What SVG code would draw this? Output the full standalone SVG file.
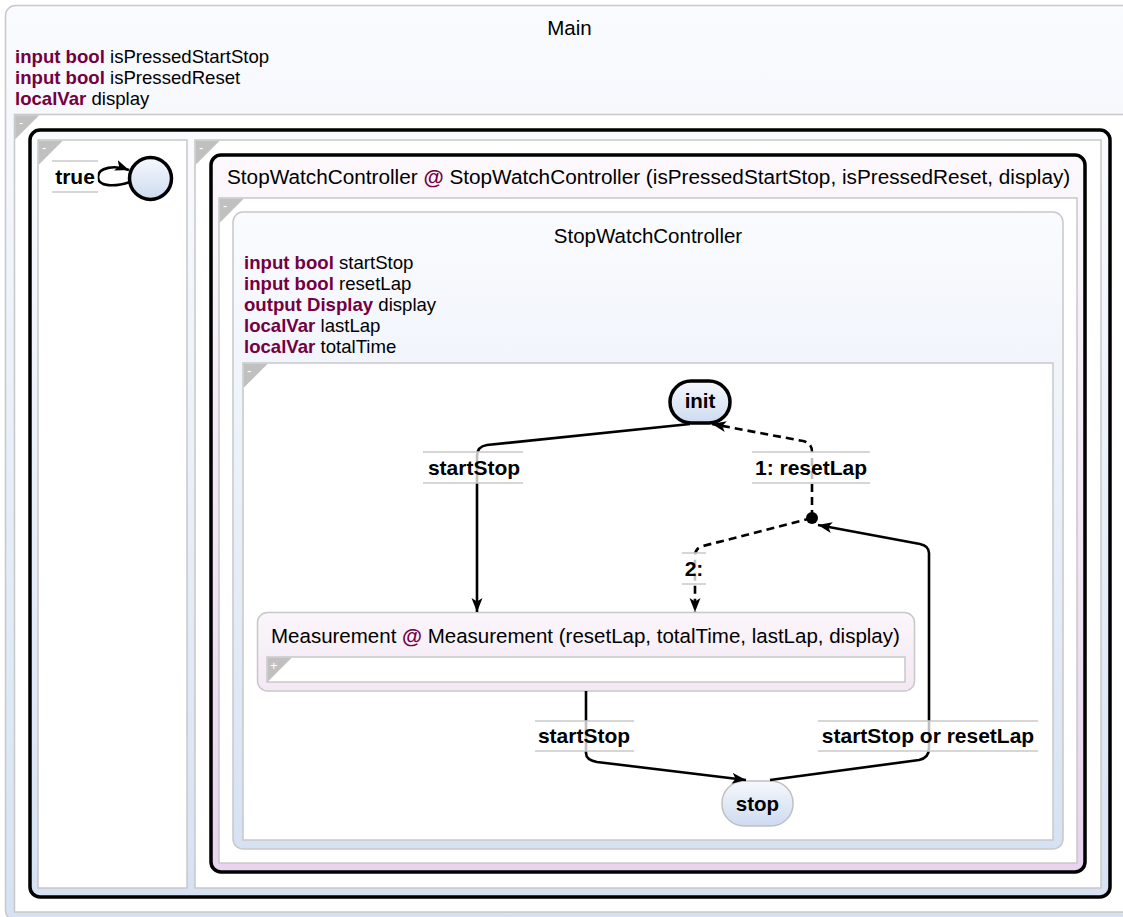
<svg xmlns="http://www.w3.org/2000/svg" width="1123" height="917" viewBox="0 0 1123 917">
<style>
.t{font-family:"Liberation Sans",Arial,sans-serif;fill:#000}
.kw{font-weight:bold;fill:#730041}
.decl{font-size:18.6px}
.title{font-size:20.5px}
.sname{font-size:20.5px;font-weight:bold}
.lbl{font-size:21px;font-weight:bold}
.region{fill:#fff;stroke:#c8c8c8;stroke-width:1.5}
.tri{fill:#c0c0c0}
.trit{font-family:"Liberation Sans",Arial,sans-serif;font-size:13px;fill:#fff}
.edge{fill:none;stroke:#000;stroke-width:2.6}
.dash{stroke-dasharray:8 5}
.lblbg{fill:#fff;fill-opacity:0.75}
.lblline{stroke:#c8c8c8;stroke-width:1.5}
</style>
<defs>
<linearGradient id="gBlue" x1="0" y1="0" x2="0" y2="1"><stop offset="0" stop-color="#fafbfe"/><stop offset="1" stop-color="#d6e2f3"/></linearGradient>
<linearGradient id="gNode" x1="0" y1="0" x2="0" y2="1"><stop offset="0" stop-color="#f6f8fd"/><stop offset="1" stop-color="#cddbf0"/></linearGradient>
<linearGradient id="gPink" x1="0" y1="0" x2="0" y2="1"><stop offset="0" stop-color="#fcf8fc"/><stop offset="1" stop-color="#e9d4ef"/></linearGradient>
<linearGradient id="gPinkL" x1="0" y1="0" x2="0" y2="1"><stop offset="0" stop-color="#fbf6fb"/><stop offset="1" stop-color="#f3e8f3"/></linearGradient>
<marker id="arr" markerUnits="userSpaceOnUse" markerWidth="16" markerHeight="13" refX="14" refY="5.5" orient="auto"><path d="M0,0 L14,5.5 L0,11 L3.5,5.5 z" fill="#000"/></marker>
</defs>

<g id="main">
<rect x="5.5" y="5.5" width="1135" height="915" rx="10" fill="url(#gBlue)" stroke="#c8c8c8" stroke-width="1.5"/>
<text class="t title" x="569.5" y="35" text-anchor="middle">Main</text>
<text class="t decl" x="15" y="63"><tspan class="kw">input bool</tspan> isPressedStartStop</text>
<text class="t decl" x="15" y="84"><tspan class="kw">input bool</tspan> isPressedReset</text>
<text class="t decl" x="15" y="105"><tspan class="kw">localVar</tspan> display</text>
<rect class="region" x="14.5" y="114.5" width="1125" height="797.5"/>
<path class="tri" d="M15.2,115.2 h24 l-24,24 z"/><text class="trit" x="19" y="127">-</text>
</g>

<g id="parallel">
<rect x="30" y="130" width="1080" height="767" rx="10" fill="url(#gBlue)" stroke="#000" stroke-width="3.5"/>
<rect class="region" x="38" y="140" width="149" height="748"/>
<path class="tri" d="M38.7,140.7 h24 l-24,24 z"/><text class="trit" x="42" y="152">-</text>
<rect class="region" x="195" y="140" width="906" height="748"/>
<path class="tri" d="M195.7,140.7 h24 l-24,24 z"/><text class="trit" x="199" y="152">-</text>
</g>

<g id="circle">
<circle cx="150.5" cy="178.5" r="21" fill="url(#gNode)" stroke="#000" stroke-width="3.5"/>
</g>

<g id="swc-ref">
<rect x="211" y="155" width="874" height="717" rx="10" fill="url(#gPink)" stroke="#000" stroke-width="3.5"/>
<text class="t" font-size="20.75" x="227" y="184">StopWatchController <tspan font-weight="bold" fill="#730041">@</tspan> StopWatchController (isPressedStartStop, isPressedReset, display)</text>
<rect class="region" x="219" y="198" width="858" height="665"/>
<path class="tri" d="M219.7,198.7 h24 l-24,24 z"/><text class="trit" x="223" y="210">-</text>
</g>

<g id="swc">
<rect x="233" y="212" width="830" height="637" rx="10" fill="url(#gBlue)" stroke="#c8c8c8" stroke-width="1.5"/>
<text class="t title" x="648" y="243" text-anchor="middle">StopWatchController</text>
<text class="t decl" x="244" y="269"><tspan class="kw">input bool</tspan> startStop</text>
<text class="t decl" x="244" y="290"><tspan class="kw">input bool</tspan> resetLap</text>
<text class="t decl" x="244" y="311"><tspan class="kw">output Display</tspan> display</text>
<text class="t decl" x="244" y="332"><tspan class="kw">localVar</tspan> lastLap</text>
<text class="t decl" x="244" y="353"><tspan class="kw">localVar</tspan> totalTime</text>
<rect class="region" x="243" y="363" width="810" height="477"/>
<path class="tri" d="M243.7,363.7 h24 l-24,24 z"/><text class="trit" x="247" y="375">-</text>
</g>

<g id="init">
<rect x="670" y="381" width="60" height="42" rx="21" fill="url(#gNode)" stroke="#000" stroke-width="3.5"/>
<text class="t sname" x="700" y="408" text-anchor="middle">init</text>
</g>

<g id="measurement">
<rect x="257.5" y="612.5" width="657" height="78.5" rx="10" fill="url(#gPinkL)" stroke="#c8c8c8" stroke-width="1.5"/>
<text class="t title" x="271" y="643">Measurement <tspan font-weight="bold" fill="#730041">@</tspan> Measurement (resetLap, totalTime, lastLap, display)</text>
<rect class="region" x="267" y="657" width="638" height="25"/>
<path class="tri" d="M267.7,657.7 h24 l-24,24 z"/><text class="trit" x="270" y="670">+</text>
</g>

<g id="stop">
<rect x="722" y="781" width="71" height="45" rx="22" fill="url(#gNode)" stroke="#c0c0c0" stroke-width="1.5"/>
<text class="t sname" x="757.5" y="811" text-anchor="middle">stop</text>
</g>

<g id="connectors">
<path class="edge" d="M130,182 C115,187 98,187 98,177 C98,167 115,165 129,170" marker-end="url(#arr)"/>
<path class="edge" d="M690,424 L487,445 Q477,446.5 477,456 L477,612" marker-end="url(#arr)"/>
<path class="edge dash" d="M812,518 L812,452 Q812,443 803,441 L712,424" marker-end="url(#arr)"/>
<path class="edge dash" d="M812,518 L703,546 Q695,548 695,556 L695,612" marker-end="url(#arr)"/>
<path class="edge" d="M586,691 L586,753 Q586,760 597,762 L746,780" marker-end="url(#arr)"/>
<path class="edge" d="M770,780 L919,760 Q929,758 929,748 L929,553 Q929,546 920,544 L818,525" marker-end="url(#arr)"/>
<circle cx="812" cy="518" r="6" fill="#000"/>

<rect class="lblbg" x="52" y="161" width="46" height="31"/>
<line class="lblline" x1="52" y1="161" x2="98" y2="161"/><line class="lblline" x1="52" y1="192" x2="98" y2="192"/>
<text class="t lbl" x="75" y="184" text-anchor="middle">true</text>

<rect class="lblbg" x="423" y="452" width="100" height="31"/>
<line class="lblline" x1="423" y1="452" x2="523" y2="452"/><line class="lblline" x1="423" y1="483" x2="523" y2="483"/>
<text class="t lbl" x="474" y="475" text-anchor="middle">startStop</text>

<rect class="lblbg" x="752" y="452" width="118" height="31"/>
<line class="lblline" x1="752" y1="452" x2="870" y2="452"/><line class="lblline" x1="752" y1="483" x2="870" y2="483"/>
<text class="t lbl" x="811" y="475" text-anchor="middle">1: resetLap</text>

<rect class="lblbg" x="682" y="553" width="24" height="31"/>
<line class="lblline" x1="682" y1="553" x2="706" y2="553"/><line class="lblline" x1="682" y1="584" x2="706" y2="584"/>
<text class="t lbl" x="694" y="576" text-anchor="middle">2:</text>

<rect class="lblbg" x="535" y="721" width="99" height="30"/>
<line class="lblline" x1="535" y1="721" x2="634" y2="721"/><line class="lblline" x1="535" y1="751" x2="634" y2="751"/>
<text class="t lbl" x="584" y="743" text-anchor="middle">startStop</text>

<rect class="lblbg" x="818" y="721" width="220" height="30"/>
<line class="lblline" x1="818" y1="721" x2="1038" y2="721"/><line class="lblline" x1="818" y1="751" x2="1038" y2="751"/>
<text class="t lbl" x="928" y="743" text-anchor="middle">startStop or resetLap</text>
</g>
</svg>
